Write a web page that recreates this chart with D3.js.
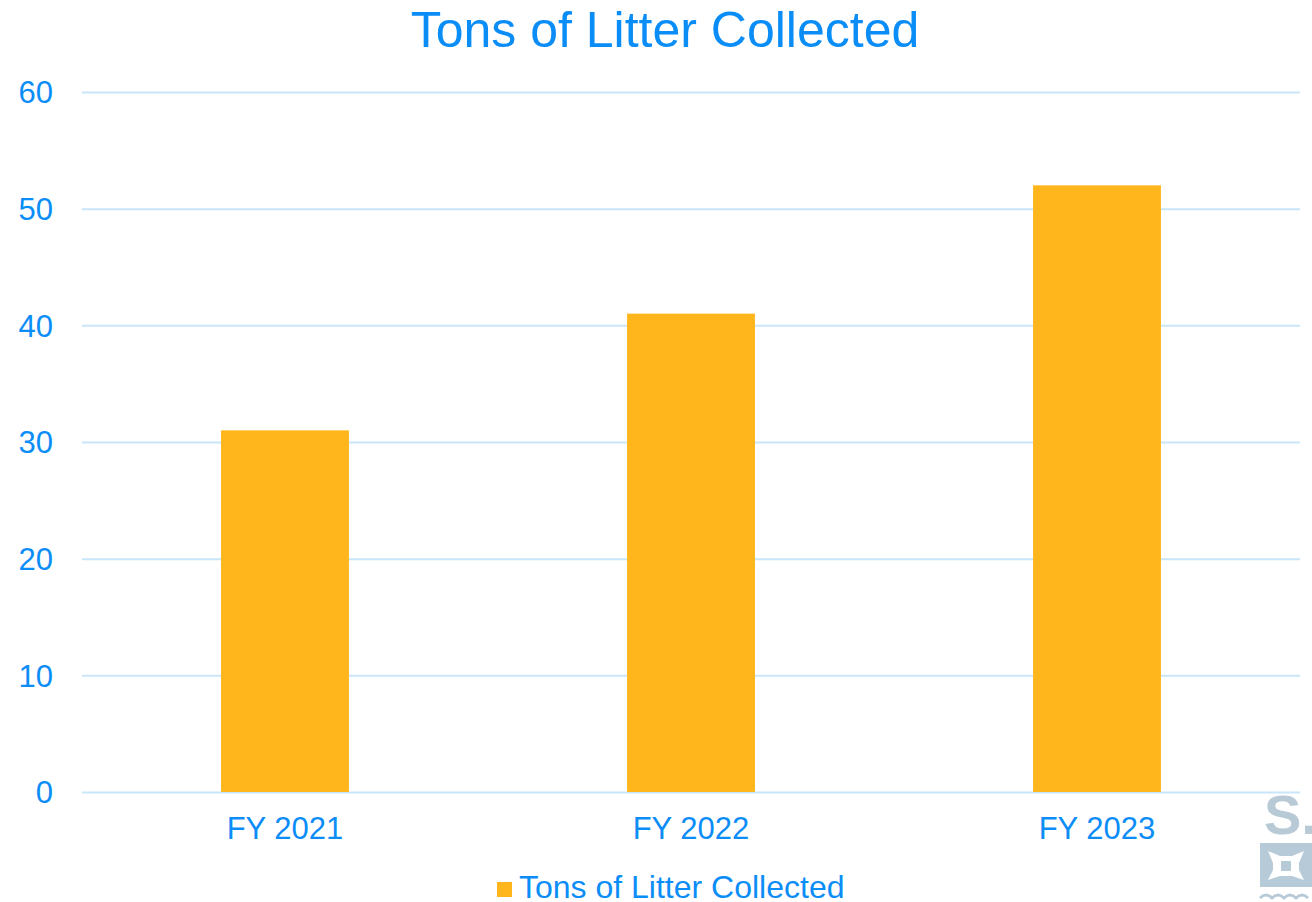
<!DOCTYPE html>
<html>
<head>
<meta charset="utf-8">
<script src="https://cdn.jsdelivr.net/npm/d3@7"></script>
<style>
  body { margin: 0; background: #fff; }
  svg { display: block; font-family: "Liberation Sans", Arial, sans-serif; }
</style>
</head>
<body>
<svg id="chart" width="1312" height="902"></svg>
<script>
const categories = ["FY 2021", "FY 2022", "FY 2023"]
const values = [31, 41, 52]
const yTicks = [0, 10, 20, 30, 40, 50, 60]
const seriesName = "Tons of Litter Collected"

const width = 1312
const height = 902
const textColor = "#0b8df7"
const gridColor = "#c9e5f8"
const barColor = "#ffb61c"

const svg = d3.select("#chart")

// scales
const x = d3.scaleBand()
    .domain(categories)
    .range([82, 1300])
    .paddingInner(0.685)
    .paddingOuter(0.3425)
const y = d3.scaleLinear()
    .domain([0, 60])
    .range([792, 92])

// title
svg.append("text")
    .attr("x", 665)
    .attr("y", 47)
    .attr("text-anchor", "middle")
    .attr("fill", textColor)
    .style("font-size", "50px")
    .text(seriesName)

// y axis with gridlines
const yAxis = d3.axisLeft(y)
    .tickValues(yTicks)
    .tickSize(-(1300 - 82))
    .tickPadding(29)
svg.append("g")
    .attr("transform", "translate(82,0)")
    .call(yAxis)
    .call(g => g.select(".domain").remove())
    .call(g => g.selectAll(".tick line").attr("stroke", gridColor).attr("stroke-width", 2))
    .call(g => g.selectAll(".tick text")
        .attr("fill", textColor)
        .style("font-size", "31px")
        .attr("dy", "0.35em"))

// bars
svg.selectAll(".bar")
    .data(values)
    .join("rect")
    .attr("class", "bar")
    .attr("x", (d, i) => x(categories[i]))
    .attr("width", x.bandwidth())
    .attr("y", d => y(d))
    .attr("height", d => y(0) - y(d))
    .attr("fill", barColor)

// x axis labels
const xAxis = d3.axisBottom(x).tickSize(0).tickPadding(25)
svg.append("g")
    .attr("transform", `translate(0,${y(0)})`)
    .call(xAxis)
    .call(g => g.select(".domain").remove())
    .call(g => g.selectAll(".tick text")
        .attr("fill", textColor)
        .style("font-size", "31px"))

// legend
const legend = svg.append("g").attr("transform", "translate(497,882)")
legend.append("rect")
    .attr("width", 15)
    .attr("height", 15)
    .attr("fill", barColor)
legend.append("text")
    .attr("x", 22)
    .attr("y", 16)
    .attr("fill", textColor)
    .style("font-size", "32px")
    .text(seriesName)

// faded logo in the corner
const logo = svg.append("g").attr("opacity", 0.55)
logo.append("text")
    .attr("x", 1264)
    .attr("y", 834)
    .attr("fill", "#7f9fb5")
    .style("font-size", "56px")
    .style("font-weight", "bold")
    .text("S.")
logo.append("rect")
    .attr("x", 1260).attr("y", 843)
    .attr("width", 52).attr("height", 44)
    .attr("fill", "#7e9fb9")
logo.append("path")
    .attr("d", "M1268,851 L1280,856 L1292,856 L1304,851 L1299,863 L1299,870 L1304,880 L1292,876 L1280,876 L1268,880 L1273,870 L1273,863 Z")
    .attr("fill", "#fff")
logo.append("rect")
    .attr("x", 1281).attr("y", 861)
    .attr("width", 10).attr("height", 10)
    .attr("fill", "#7e9fb9")
logo.append("path")
    .attr("d", "M1260,898 q6,-6 12,0 q6,-6 12,0 q6,-6 12,0 q6,-6 12,0")
    .attr("fill", "none")
    .attr("stroke", "#7e9fb9")
    .attr("stroke-width", 3)
</script>
</body>
</html>
